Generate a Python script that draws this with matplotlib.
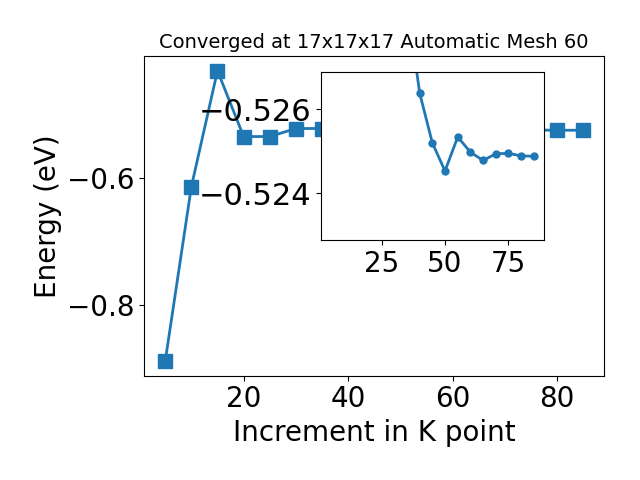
import matplotlib
matplotlib.use("Agg")
import matplotlib.pyplot as plt
import numpy as np

# k-point increments and total energies (eV)
kpoints = [5, 10, 15, 20, 25, 30, 35, 40, 45, 50, 55, 60, 65, 70, 75, 80, 85]
energies = [-0.8877, -0.6142, -0.4321, -0.5354, -0.5354, -0.5228, -0.5228,
            -0.5264, -0.5252, -0.5245, -0.5253, -0.5250, -0.5248, -0.5249,
            -0.5250, -0.5255, -0.5255]

# zoomed view of the converged region
inset_k = [35, 40, 45, 50, 55, 60, 65, 70, 75, 80, 85]
inset_e = [-0.5286, -0.52639, -0.5252, -0.52453, -0.52534, -0.52498,
           -0.52478, -0.52494, -0.52495, -0.52489, -0.52488]
inset_yticks = [-0.526, -0.524]

plt.rcParams['font.size'] = 20

fig = plt.figure(figsize=(6.4, 4.8), dpi=100)
ax = fig.add_axes([0.2255, 0.2173, 0.7185, 0.6657])
ax.plot(kpoints, energies, 's-', color='C0', markersize=10, linewidth=2)
ax.set_title('Converged at 17x17x17 Automatic Mesh 60', fontsize=14)
ax.set_xlabel('Increment in K point')
ax.set_ylabel('Energy (eV)')

axins = fig.add_axes([0.501, 0.4994, 0.349, 0.35])
axins.plot(inset_k, inset_e, 'o-', color='C0', markersize=5, linewidth=2)
axins.set_xlim(1, 89)
axins.set_ylim(-0.52288, -0.52688)
axins.set_yticks(inset_yticks)
axins.set_xticks([25, 50, 75])
axins.tick_params(axis='y', labelsize=22)

fig.savefig('out.png', dpi=100)
